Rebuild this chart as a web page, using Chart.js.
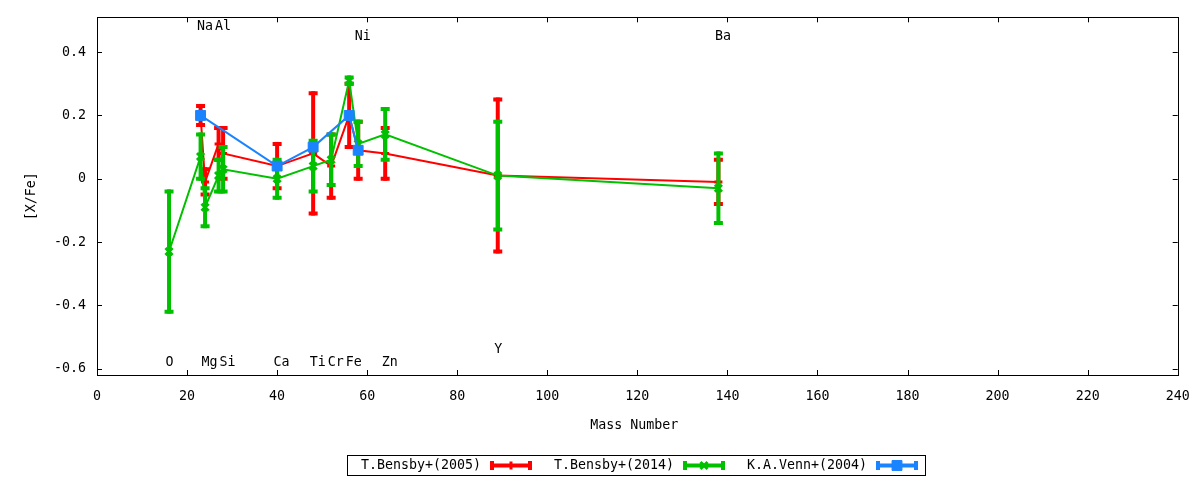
<!DOCTYPE html>
<html>
<head>
<meta charset="utf-8">
<script src="https://cdn.jsdelivr.net/npm/chart.js@4.4.1/dist/chart.umd.min.js"></script>
<style>
html,body{margin:0;padding:0;background:#fff;}
#wrap{width:1200px;height:480px;}
</style>
</head>
<body>
<div id="wrap"><canvas id="c" width="1200" height="480"></canvas></div>
<script>
// ---- data ----
const xTicks = [0,20,40,60,80,100,120,140,160,180,200,220,240];
const yTicks = [-0.6,-0.4,-0.2,0,0.2,0.4];

const seriesNames = ["T.Bensby+(2005)","T.Bensby+(2014)","K.A.Venn+(2004)"];

const b05Mass = [23,24,27,28,40,48,52,56,58,64,89,138];
const b05Val  = [0.20,-0.01,0.11,0.08,0.04,0.08,0.04,0.20,0.09,0.08,0.01,-0.01];
const b05Err  = [0.03,0.04,0.05,0.08,0.07,0.19,0.10,0.10,0.09,0.08,0.24,0.07];

const b14Mass = [16,23,24,27,28,40,48,52,56,58,64,89,138];
const b14Val  = [-0.23,0.07,-0.09,0.01,0.03,0.00,0.04,0.06,0.31,0.11,0.14,0.01,-0.03];
const b14Err  = [0.19,0.07,0.06,0.05,0.07,0.06,0.08,0.08,0.01,0.07,0.08,0.17,0.11];

const v04Mass = [23,40,48,56,58];
const v04Val  = [0.20,0.04,0.10,0.20,0.09];
const v04Err  = [0,0,0,0,0];

const elemNames = ["O","Na","Mg","Al","Si","Ca","Ti","Cr","Fe","Ni","Zn","Y","Ba"];
const elemMass  = [16,23,24,27,28,40,48,52,56,58,64,89,138];
const elemLabY  = [-0.58,0.48,-0.58,0.48,-0.58,-0.58,-0.58,-0.58,-0.58,0.45,-0.58,-0.54,0.45];

// ---- styles ----
const FONT = '13.3px "DejaVu Sans Mono"';
const colors = ['#ff0000','#00c000','#1a84ff'];

function pts(xs, ys){ return xs.map((x,i)=>({x:x,y:ys[i]})); }

const errPlugin = {
  id:'errbars',
  beforeDatasetDraw(chart, args){
    const ds = chart.data.datasets[args.index];
    if(!ds.errors) return;
    const xs = chart.scales.x, ys = chart.scales.y, ctx = chart.ctx;
    ctx.save();
    ctx.strokeStyle = ds.borderColor;
    ctx.lineWidth = 4;
    ctx.lineCap = 'butt';
    ds.data.forEach((p,i)=>{
      const e = ds.errors[i];
      const px = xs.getPixelForValue(p.x);
      const y1 = ys.getPixelForValue(p.y+e), y2 = ys.getPixelForValue(p.y-e);
      ctx.beginPath();
      ctx.moveTo(px,y1-2); ctx.lineTo(px,y2+2);
      ctx.stroke();
      ctx.beginPath();
      ctx.moveTo(px-4.5,y1); ctx.lineTo(px+4.5,y1);
      ctx.moveTo(px-4.5,y2); ctx.lineTo(px+4.5,y2);
      ctx.stroke();
    });
    ctx.restore();
  }
};

const framePlugin = {
  id:'frame',
  beforeDatasetsDraw(chart){
    const {ctx, chartArea:a} = chart;
    const xs = chart.scales.x, ys = chart.scales.y;
    ctx.save();
    ctx.strokeStyle = '#000';
    ctx.lineWidth = 1;
    ctx.strokeRect(Math.round(a.left)+0.5, Math.round(a.top)+0.5, Math.round(a.right-a.left), Math.round(a.bottom-a.top));
    ctx.beginPath();
    xTicks.forEach(v=>{
      const px = Math.round(xs.getPixelForValue(v))+0.5;
      ctx.moveTo(px,a.bottom); ctx.lineTo(px,a.bottom-5);
      ctx.moveTo(px,a.top); ctx.lineTo(px,a.top+5);
    });
    yTicks.forEach(v=>{
      const py = Math.round(ys.getPixelForValue(v))+0.5;
      ctx.moveTo(a.left,py); ctx.lineTo(a.left+5,py);
      ctx.moveTo(a.right,py); ctx.lineTo(a.right-5,py);
    });
    ctx.stroke();
    // element labels
    ctx.fillStyle = '#000';
    ctx.font = FONT;
    ctx.textAlign = 'left';
    ctx.textBaseline = 'middle';
    elemNames.forEach((n,i)=>{
      ctx.fillText(n, xs.getPixelForValue(elemMass[i]) - 3.5, ys.getPixelForValue(elemLabY[i]));
    });
    // axis titles
    ctx.textAlign = 'center';
    ctx.fillText('Mass Number', (a.left+a.right)/2 - 3, 426);
    ctx.save();
    ctx.translate(32, (a.top+a.bottom)/2);
    ctx.rotate(-Math.PI/2);
    ctx.fillText('[X/Fe]', 0, 0);
    ctx.restore();
    ctx.restore();
  }
};

const legendPlugin = {
  id:'gplegend',
  afterDraw(chart){
    const ctx = chart.ctx;
    ctx.save();
    ctx.strokeStyle = '#000';
    ctx.lineWidth = 1;
    ctx.strokeRect(347.5, 455.5, 578, 20);
    ctx.font = FONT;
    ctx.textAlign = 'left';
    ctx.textBaseline = 'middle';
    const cy = 465.5;
    chart.data.datasets.forEach((ds,i)=>{
      const x0 = 361 + i*193;
      ctx.fillStyle = '#000';
      ctx.fillText(seriesNames[i], x0, cy);
      const s0 = x0 + 129, s1 = x0 + 171;
      ctx.strokeStyle = ds.borderColor;
      ctx.lineWidth = 4;
      ctx.beginPath();
      ctx.moveTo(s0, cy); ctx.lineTo(s1, cy);
      ctx.moveTo(s0+2, cy-4.5); ctx.lineTo(s0+2, cy+4.5);
      ctx.moveTo(s1-2, cy-4.5); ctx.lineTo(s1-2, cy+4.5);
      ctx.stroke();
      ctx.fillStyle = ds.pointBackgroundColor;
      ctx.strokeStyle = ds.borderColor;
      ctx.lineWidth = ds.pointBorderWidth;
      Chart.helpers.drawPoint(ctx, {
        pointStyle: ds.pointStyle, radius: ds.pointRadius, borderWidth: ds.pointBorderWidth,
        rotation: 0
      }, (s0+s1)/2, cy);
    });
    ctx.restore();
  }
};

Chart.defaults.color = '#000';
Chart.defaults.font.family = '"DejaVu Sans Mono"';
Chart.defaults.font.size = 13.3;

new Chart(document.getElementById('c'), {
  type: 'scatter',
  data: {
    datasets: [
      { label: seriesNames[0], data: pts(b05Mass,b05Val), errors: b05Err,
        showLine: true, borderColor: colors[0], backgroundColor: colors[0],
        borderWidth: 2, pointStyle: 'cross', pointRadius: 4, pointBorderWidth: 3,
        pointBackgroundColor: colors[0], pointBorderColor: colors[0], order: 3 },
      { label: seriesNames[1], data: pts(b14Mass,b14Val), errors: b14Err,
        showLine: true, borderColor: colors[1], backgroundColor: colors[1],
        borderWidth: 2, pointStyle: 'crossRot', pointRadius: 5, pointBorderWidth: 3,
        pointBackgroundColor: colors[1], pointBorderColor: colors[1], order: 2 },
      { label: seriesNames[2], data: pts(v04Mass,v04Val), errors: v04Err,
        showLine: true, borderColor: colors[2], backgroundColor: colors[2],
        borderWidth: 2, pointStyle: 'rect', pointRadius: 7, pointBorderWidth: 1,
        pointBackgroundColor: colors[2], pointBorderColor: colors[2], order: 1 }
    ]
  },
  options: {
    responsive: false,
    devicePixelRatio: 1,
    animation: false,
    layout: { padding: { top: 17.3, left: 0, right: 22.3, bottom: 0 } },
    plugins: { legend: { display: false }, tooltip: { enabled: false } },
    elements: { line: { tension: 0 } },
    scales: {
      x: {
        type: 'linear', min: 0, max: 240,
        grid: { display: false, drawTicks: false },
        border: { display: false },
        afterBuildTicks: s => { s.ticks = xTicks.map(v=>({value:v})); },
        afterFit: s => { s.height = 105; s.paddingLeft = 0; s.paddingRight = 0; },
        ticks: { padding: 14, maxRotation: 0, autoSkip: false, color: '#000',
                 callback: v => String(v) }
      },
      y: {
        type: 'linear', min: -0.62, max: 0.51,
        grid: { display: false, drawTicks: false },
        border: { display: false },
        afterBuildTicks: s => { s.ticks = yTicks.map(v=>({value:v})); },
        afterFit: s => { s.width = 97; s.paddingTop = 0; s.paddingBottom = 0; },
        ticks: { padding: 11, autoSkip: false, color: '#000',
                 callback: v => (Math.abs(v) < 1e-9 ? '0' : String(Math.round(v*10)/10)) }
      }
    }
  },
  plugins: [errPlugin, framePlugin, legendPlugin]
});
</script>
</body>
</html>
